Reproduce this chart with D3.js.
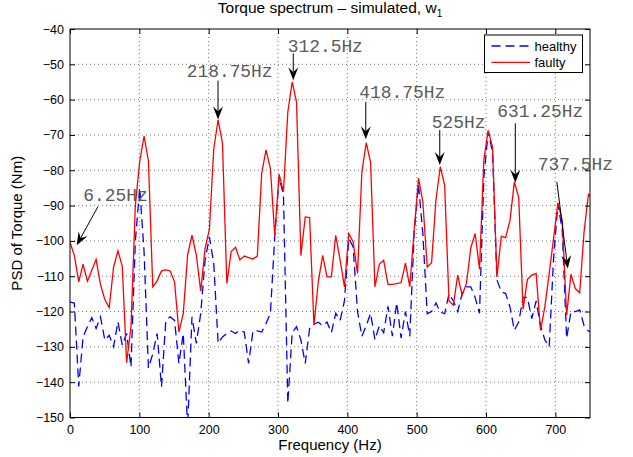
<!DOCTYPE html>
<html>
<head>
<meta charset="utf-8">
<script src="https://cdn.jsdelivr.net/npm/d3@7/dist/d3.min.js"></script>
<style>
  html, body { margin: 0; padding: 0; background: #fff; }
  svg { display: block; font-family: "Liberation Sans", Arial, Helvetica, sans-serif; }
  .ann-text { font-family: "Liberation Mono", "DejaVu Sans Mono", monospace; }
</style>
</head>
<body>
<svg id="chart" width="633" height="457"></svg>
<script>
// ---------------- data ----------------
const freqs = [0, 6.28, 12.57, 18.85, 25.13, 31.42, 37.70, 43.98, 50.27, 56.55,
  62.83, 69.12, 75.40, 81.68, 87.96, 94.25, 100.53, 106.81, 113.10, 119.38,
  125.66, 131.95, 138.23, 144.51, 150.80, 157.08, 163.36, 169.65, 175.93, 182.21,
  188.50, 194.78, 201.06, 207.35, 213.63, 219.91, 226.19, 232.48, 238.76, 245.04,
  251.33, 257.61, 263.89, 270.18, 276.46, 282.74, 289.03, 295.31, 301.59, 307.88,
  314.16, 320.44, 326.73, 333.01, 339.29, 345.58, 351.86, 358.14, 364.42, 370.71,
  376.99, 383.27, 389.56, 395.84, 402.12, 408.41, 414.69, 420.97, 427.26, 433.54,
  439.82, 446.11, 452.39, 458.67, 464.96, 471.24, 477.52, 483.81, 490.09, 496.37,
  502.65, 508.94, 515.22, 521.50, 527.79, 534.07, 540.35, 546.64, 552.92, 559.20,
  565.49, 571.77, 578.05, 584.34, 590.62, 596.90, 603.19, 609.47, 615.75, 622.04,
  628.32, 634.60, 640.88, 647.17, 653.45, 659.73, 666.02, 672.30, 678.58, 684.87,
  691.15, 697.43, 703.72, 710.00, 716.28, 722.57, 728.85, 735.13, 741.42, 747.70,
  753.98];

const healthy = [-117.3, -117.6, -141.2, -127.2, -124.3, -121.7, -124.8, -121.5, -128.1, -126.7,
  -130, -122.9, -129.5, -126.2, -135.7, -100, -85, -103, -136, -132,
  -126.2, -141.3, -122.5, -121.5, -122.5, -134.7, -126.2, -153, -121.5, -129,
  -120.6, -105.5, -98.9, -106.4, -129, -127.2, -126.2, -125.5, -126.2, -125.3,
  -125.8, -134.7, -125.5, -125.5, -125.8, -123.4, -120.6, -98.9, -82, -87,
  -146, -126, -124.3, -128, -134.7, -124.8, -123.6, -123, -124, -123,
  -126, -120.5, -122.5, -117, -99.3, -101.7, -120, -127, -124, -120.5,
  -128, -124, -126, -118.5, -127, -117.5, -127.5, -120, -127, -98,
  -84, -98, -120.6, -120, -117.6, -120.2, -120.6, -115, -117, -120,
  -115, -113, -113, -116, -120.5, -82, -69, -75, -111, -114.4,
  -114.9, -118.7, -125.3, -123, -116, -116, -122, -117, -124, -128,
  -130, -105, -89.5, -97, -127.6, -120, -120, -119.5, -124, -125.5,
  -126];

const faulty = [-100.4, -104.1, -111.6, -106.6, -111.4, -108.3, -105.2, -112.4, -116.6, -118.9,
  -107.5, -102.8, -107.2, -134.5, -124.3, -90, -77.5, -70.3, -77.3, -113,
  -111.3, -108.5, -108.2, -108.5, -111.6, -125.8, -120.6, -104, -98.4, -104,
  -114.2, -102.2, -96.7, -73.9, -65.7, -72.3, -112, -103, -101.8, -105.4,
  -104.3, -104.7, -105.1, -104.3, -80.9, -74.2, -79.5, -98.4, -81.1, -86.1,
  -63.5, -55, -60.7, -104.1, -93.2, -93.4, -123.9, -111.5, -104.1, -110.2,
  -110.2, -98.4, -105.4, -113, -97.9, -100.3, -109.2, -80.5, -72.2, -77.8,
  -113, -106.6, -105.5, -112.3, -112.3, -112.1, -111.8, -106.3, -113, -97,
  -82.2, -89, -107.4, -106.2, -88.4, -79, -84.2, -117, -118.2, -109.7,
  -115.4, -112.1, -102, -97.9, -108, -77, -68.7, -73.5, -110.2, -98.7,
  -99.1, -94.2, -83.3, -87.7, -119.4, -110.9, -109.7, -109.2, -125.3, -118.7,
  -109.2, -99.3, -89.2, -94.2, -121, -109.4, -113.5, -114.7, -97.5, -86.8,
  -88.3];

const xTicks = [0, 100, 200, 300, 400, 500, 600, 700];
const yTicks = [-150, -140, -130, -120, -110, -100, -90, -80, -70, -60, -50, -40];

const seriesNames = ["healthy", "faulty"];

// annotations: label, text anchor (Hz, dB), arrow tail (Hz, dB), arrow head (Hz, dB)
const annLabels = ["6.25Hz", "218.75Hz", "312.5Hz", "418.75Hz", "525Hz", "631.25Hz", "737.5Hz"];
const annTextX  = [19.2, 168.3, 314.0, 417.3, 521.7, 616.3, 674.6];
const annTextY  = [-88.7, -53.5, -46.4, -59.5, -68.0, -64.8, -80.0];
const annTailX  = [40.3, 213.5, 322.0, 426.6, 533.3, 642.3, 702.2];
const annTailY  = [-90.3, -54.6, -46.9, -60.6, -68.6, -66.7, -83.3];
const annHeadX  = [9.7, 213.5, 322.0, 426.6, 533.3, 642.3, 718.0];
const annHeadY  = [-101.2, -65.6, -54.5, -71.2, -78.5, -83.5, -107.8];

// ---------------- layout ----------------
const W = 633, H = 457;
const plot = { left: 70, right: 590, top: 29, bottom: 417.5 };

const svg = d3.select("#chart");
const x = d3.scaleLinear().domain([0, 750]).range([plot.left, plot.right]);
const y = d3.scaleLinear().domain([-150, -40]).range([plot.bottom, plot.top]);

svg.append("rect").attr("width", W).attr("height", H).attr("fill", "#fff");

svg.append("defs").append("clipPath").attr("id", "clip")
  .append("rect")
  .attr("x", plot.left).attr("y", plot.top)
  .attr("width", plot.right - plot.left).attr("height", plot.bottom - plot.top);

// grid
const grid = svg.append("g").attr("class", "grid");
grid.selectAll("line.gx").data(xTicks.filter(d => d > 0)).join("line")
  .attr("x1", d => x(d)).attr("x2", d => x(d))
  .attr("y1", plot.top).attr("y2", plot.bottom)
  .attr("stroke", "#555").attr("stroke-width", 0.8).attr("stroke-dasharray", "1,3");
grid.selectAll("line.gy").data(yTicks.filter(d => d > -150 && d < -40)).join("line")
  .attr("x1", plot.left).attr("x2", plot.right)
  .attr("y1", d => y(d)).attr("y2", d => y(d))
  .attr("stroke", "#555").attr("stroke-width", 0.8).attr("stroke-dasharray", "1,3");

// series lines
const lineGen = vals => d3.line().x((d, i) => x(freqs[i])).y(d => y(d))(vals);
const lines = svg.append("g").attr("clip-path", "url(#clip)");
lines.append("path").attr("d", lineGen(healthy))
  .attr("fill", "none").attr("stroke", "#0000ff").attr("stroke-width", 1.3)
  .attr("stroke-dasharray", "9,5");
lines.append("path").attr("d", lineGen(faulty))
  .attr("fill", "none").attr("stroke", "#ff0000").attr("stroke-width", 1.3);

// axes (ticks inside, box)
const axB = svg.append("g").attr("transform", `translate(0,${plot.bottom})`)
  .call(d3.axisBottom(x).tickValues(xTicks).tickSizeInner(-5).tickSizeOuter(0).tickPadding(8));
const axL = svg.append("g").attr("transform", `translate(${plot.left},0)`)
  .call(d3.axisLeft(y).tickValues(yTicks).tickSizeInner(-5).tickSizeOuter(0).tickPadding(6));
const axT = svg.append("g").attr("transform", `translate(0,${plot.top})`)
  .call(d3.axisTop(x).tickValues(xTicks).tickSizeInner(-5).tickSizeOuter(0).tickFormat(""));
const axR = svg.append("g").attr("transform", `translate(${plot.right},0)`)
  .call(d3.axisRight(y).tickValues(yTicks).tickSizeInner(-5).tickSizeOuter(0).tickFormat(""));
[axB, axL, axT, axR].forEach(g => {
  g.attr("font-family", null).attr("font-size", null);
  g.select(".domain").remove();
  g.selectAll("line").attr("stroke", "#000").attr("stroke-width", 1);
  g.selectAll("text").style("font-size", "12.5px").attr("fill", "#000");
});
svg.append("rect")
  .attr("x", plot.left).attr("y", plot.top)
  .attr("width", plot.right - plot.left).attr("height", plot.bottom - plot.top)
  .attr("fill", "none").attr("stroke", "#000").attr("stroke-width", 1);

// labels
svg.append("text").attr("x", (plot.left + plot.right) / 2).attr("y", 450)
  .attr("text-anchor", "middle").style("font-size", "15px").text("Frequency (Hz)");
svg.append("text")
  .attr("transform", `translate(22,${(plot.top + plot.bottom) / 2}) rotate(-90)`)
  .attr("text-anchor", "middle").style("font-size", "15px").text("PSD of Torque (Nm)");
const title = svg.append("text").attr("x", (plot.left + plot.right) / 2).attr("y", 13)
  .attr("text-anchor", "middle").style("font-size", "15.5px");
title.append("tspan").text("Torque spectrum \u2013 simulated, w");
title.append("tspan").style("font-size", "10px").attr("dy", 4).text("1");

// annotations
const ann = svg.append("g");
annLabels.forEach((lab, i) => {
  ann.append("text").attr("class", "ann-text")
    .attr("x", x(annTextX[i])).attr("y", y(annTextY[i]))
    .style("font-size", "17.9px").attr("fill", "#5a5a5a")
    .text(lab);
  const tx = x(annTailX[i]), ty = y(annTailY[i]);
  const hx = x(annHeadX[i]), hy = y(annHeadY[i]);
  const len = Math.hypot(hx - tx, hy - ty);
  const ux = (hx - tx) / len, uy = (hy - ty) / len;
  const nx = -uy, ny = ux;
  const L = 13, Wd = 10, notch = 0.62 * L;
  ann.append("line")
    .attr("x1", tx).attr("y1", ty)
    .attr("x2", hx - ux * notch).attr("y2", hy - uy * notch)
    .attr("stroke", "#000").attr("stroke-width", 1);
  const pts = [
    [hx, hy],
    [hx - ux * L + nx * Wd / 2, hy - uy * L + ny * Wd / 2],
    [hx - ux * notch, hy - uy * notch],
    [hx - ux * L - nx * Wd / 2, hy - uy * L - ny * Wd / 2]
  ];
  ann.append("path").attr("d", "M" + pts.map(p => p.join(",")).join("L") + "Z")
    .attr("fill", "#000");
});

// legend
const lg = svg.append("g");
lg.append("rect").attr("x", 484.5).attr("y", 35).attr("width", 98).attr("height", 37.5)
  .attr("fill", "#fff").attr("stroke", "#000").attr("stroke-width", 1);
const legColors = ["#0000ff", "#ff0000"];
const legDash = ["9,5", null];
seriesNames.forEach((name, i) => {
  const yy = 46 + i * 16.3;
  lg.append("line").attr("x1", 491.5).attr("x2", 530).attr("y1", yy).attr("y2", yy)
    .attr("stroke", legColors[i]).attr("stroke-width", 1.3)
    .attr("stroke-dasharray", legDash[i]);
  lg.append("text").attr("x", 534.5).attr("y", yy + 4.5)
    .style("font-size", "13px").text(name);
});
</script>
</body>
</html>
